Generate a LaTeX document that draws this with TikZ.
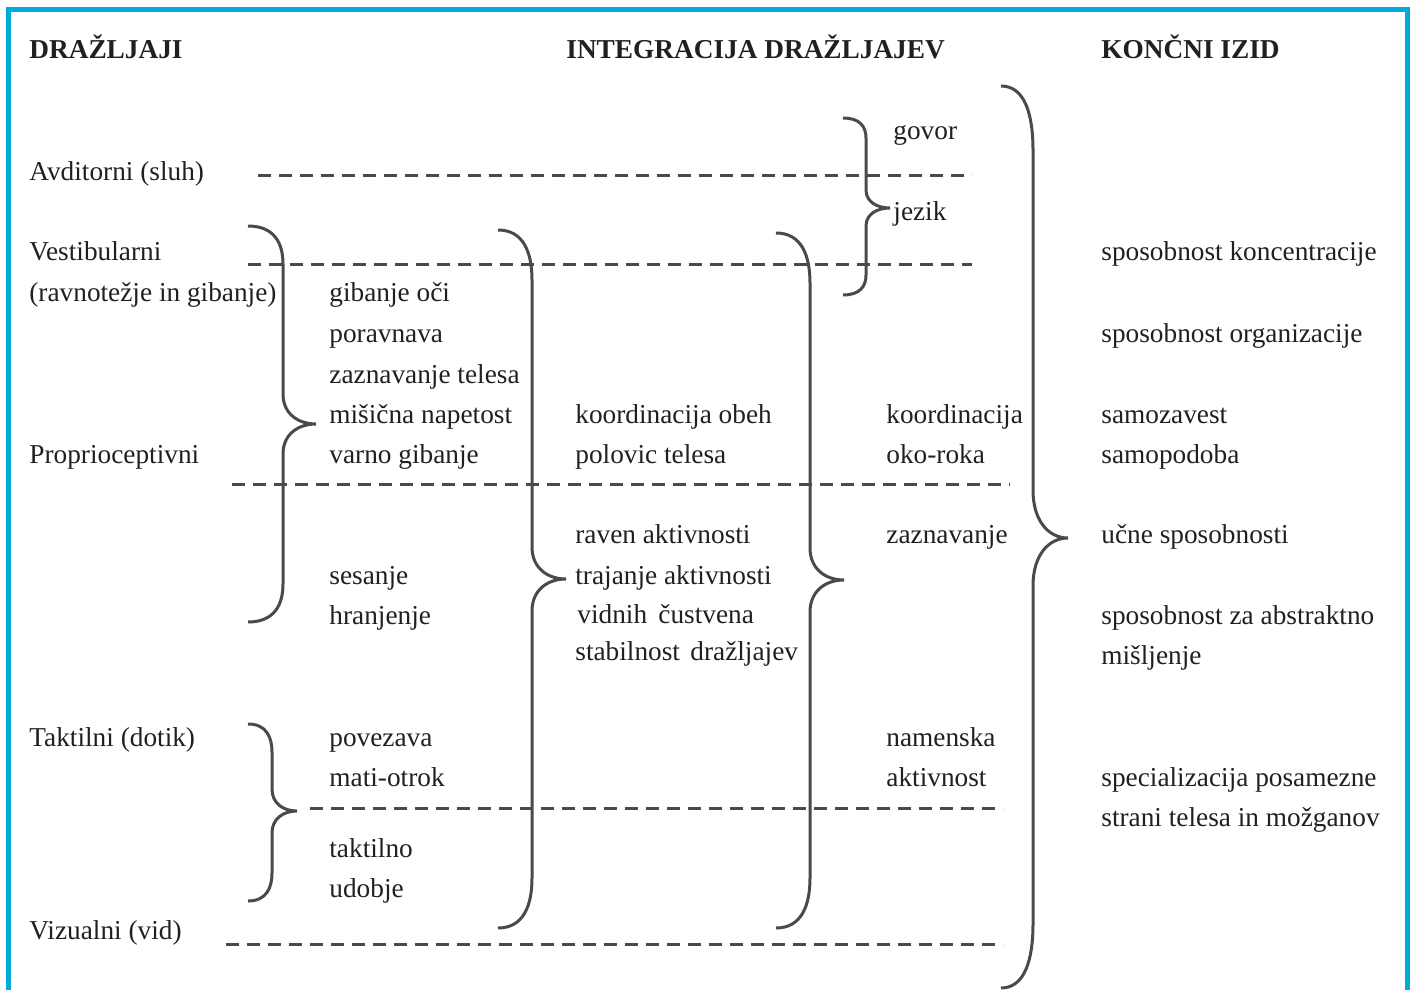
\documentclass[tikz,border=0pt]{standalone}
\usepackage{fontspec}
\setmainfont{Liberation Serif}
\usepackage{tikz}

\definecolor{frameblue}{RGB}{0,170,218}
\definecolor{linegray}{RGB}{74,74,74}
\definecolor{txt}{RGB}{35,31,32}

% curly brace: x end, x spine, x tip, y top, y tip, y bottom, end bend, tip bend
\newcommand{\curlybr}[8]{%
	\draw[brc] (#1,#4) .. controls ({#1+0.75*(#2-#1)},#4) and (#2,{#4+0.45*#7}) .. (#2,{#4+#7})
		-- (#2,{#5-#8}) .. controls (#2,{#5-0.35*#8}) and ({#2+0.45*(#3-#2)},#5) .. (#3,#5)
		.. controls ({#2+0.45*(#3-#2)},#5) and (#2,{#5+0.35*#8}) .. (#2,{#5+#8})
		-- (#2,{#6-#7}) .. controls (#2,{#6-0.45*#7}) and ({#1+0.75*(#2-#1)},#6) .. (#1,#6);}

\begin{document}
\begin{tikzpicture}[x=0.5pt,y=-0.5pt]
		\tikzset{lbl/.style={anchor=base west,inner sep=0pt,text=txt,font=\fontsize{13.65pt}{16pt}\selectfont},
			hdr/.style={lbl,font=\fontsize{13.65pt}{16pt}\selectfont\bfseries},
			sep/.style={linegray,line width=1.5pt,dash pattern=on 6.5pt off 4pt},
			brc/.style={linegray,line width=1.5pt}};
		\useasboundingbox (0,0) rectangle (1413,990);
		\draw[frameblue,line width=2.5pt,line join=miter] (8,990) -- (8,10) -- (1407.5,10) -- (1407.5,990);
		% headings
		\node[hdr] (h1) at (29,58.5) {DRAŽLJAJI};
		\node[hdr] (h2) at (566,58.5) {INTEGRACIJA DRAŽLJAJEV};
		\node[hdr] (h3) at (1101,58.5) {KONČNI IZID};
		% dashed separators
		\draw[sep] (258,175) -- (972,175);
		\draw[sep] (248,264) -- (972,264);
		\draw[sep] (232,484) -- (1010,484);
		\draw[sep] (310,808) -- (1003,808);
		\draw[sep] (226,944) -- (1003,944);
		% senses
		\node[lbl] (avd) at (29,180) {Avditorni (sluh)};
		\node[lbl] (vest) at (29,260) {Vestibularni};
		\node[lbl] (ravn) at (29,301) {(ravnotežje in gibanje)};
		\node[lbl] (prop) at (29,463) {Proprioceptivni};
		\node[lbl] (takt) at (29,746) {Taktilni (dotik)};
		\node[lbl] (viz) at (29,939) {Vizualni (vid)};
		% second column
		\node[lbl] (gib) at (329,301) {gibanje oči};
		\node[lbl] (porav) at (329,342) {poravnava};
		\node[lbl] (zazt) at (329,383) {zaznavanje telesa};
		\node[lbl] (misic) at (329,423) {mišična napetost};
		\node[lbl] (varno) at (329,463) {varno gibanje};
		\node[lbl] (ses) at (329,584) {sesanje};
		\node[lbl] (hran) at (329,624) {hranjenje};
		\node[lbl] (povez) at (329,746) {povezava};
		\node[lbl] (mati) at (329,786) {mati-otrok};
		\node[lbl] (taktil) at (329,857) {taktilno};
		\node[lbl] (udob) at (329,897) {udobje};
		% third column
		\node[lbl] (koorob) at (575,423) {koordinacija obeh};
		\node[lbl] (polov) at (575,463) {polovic telesa};
		\node[lbl] (raven) at (575,543) {raven aktivnosti};
		\node[lbl] (trajan) at (575,584) {trajanje aktivnosti};
		\node[lbl] (vidn) at (577,623) {vidnih};
		\node[lbl] (cust) at (658,623) {čustvena};
		\node[lbl] (stab) at (575,660) {stabilnost};
		\node[lbl] (draz) at (690,660) {dražljajev};
		% fourth column
		\node[lbl] (govor) at (893,140) {govor};
		\node[lbl] (jezik) at (893,220) {jezik};
		\node[lbl] (kooko) at (886,423) {koordinacija};
		\node[lbl] (oko) at (886,463) {oko-roka};
		\node[lbl] (zazn) at (886,543) {zaznavanje};
		\node[lbl] (namen) at (886,746) {namenska};
		\node[lbl] (aktiv) at (886,786) {aktivnost};
		% outcomes
		\node[lbl] (konc) at (1101,260) {sposobnost koncentracije};
		\node[lbl] (org) at (1101,342) {sposobnost organizacije};
		\node[lbl] (samoz) at (1101,423) {samozavest};
		\node[lbl] (samop) at (1101,463) {samopodoba};
		\node[lbl] (ucne) at (1101,543) {učne sposobnosti};
		\node[lbl] (abstr) at (1101,624) {sposobnost za abstraktno};
		\node[lbl] (misl) at (1101,664) {mišljenje};
		\node[lbl] (spec) at (1101,786) {specializacija posamezne};
		\node[lbl] (strani) at (1101,826) {strani telesa in možganov};
		% braces
		\curlybr{843}{866}{890}{118}{208}{295}{20}{18}
		\curlybr{248}{283}{316}{226}{424}{622}{38}{30}
		\curlybr{248}{272}{297}{724}{811}{901}{28}{22}
		\curlybr{498}{532}{566}{230}{579}{928}{50}{32}
		\curlybr{776}{810}{844}{233}{580}{928}{50}{32}
		\curlybr{1001}{1033}{1068}{86}{538}{988}{64}{48}
	\end{tikzpicture}
\end{document}
